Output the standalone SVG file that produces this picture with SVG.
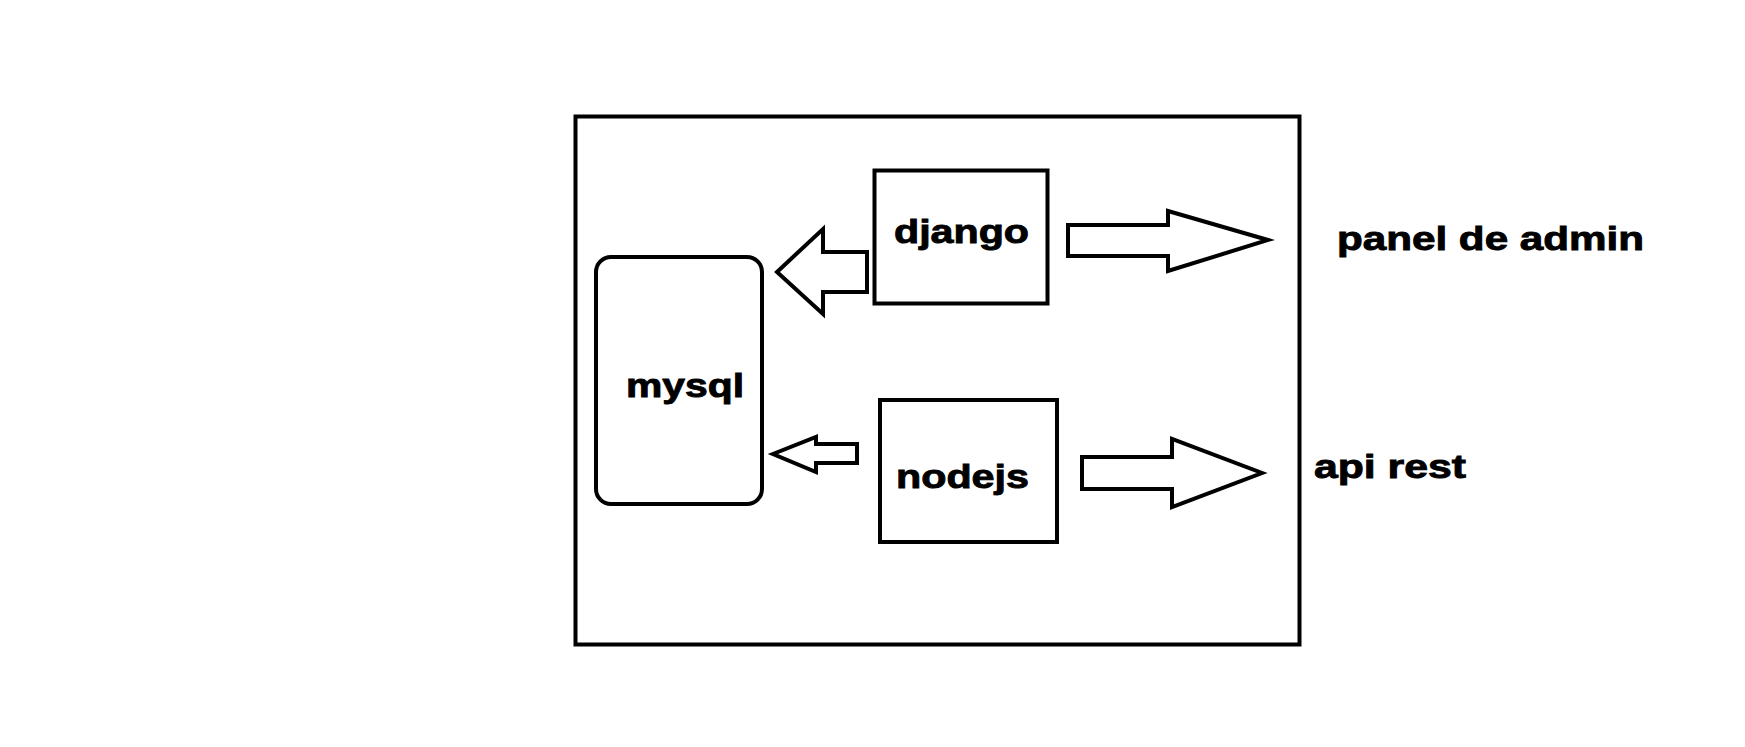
<svg xmlns="http://www.w3.org/2000/svg" width="1745" height="747" viewBox="0 0 1745 747">
<style>
.box{fill:none;stroke:#000;stroke-width:4}
.arrow{fill:#fff;stroke:#000;stroke-width:4;stroke-linejoin:miter}
.lbl{font-family:"Liberation Sans",Arial,sans-serif;font-weight:bold;font-size:34px;fill:#000;stroke:#000;stroke-width:0.9}
</style>
<rect width="1745" height="747" fill="#fff"/>
<g id="container">
<rect class="box" x="575.5" y="116.5" width="724" height="528"/>
</g>
<g id="mysql">
<rect class="box" x="596" y="257" width="166" height="247" rx="15" ry="15"/>
<text class="lbl" x="626" y="397" textLength="118" lengthAdjust="spacingAndGlyphs">mysql</text>
</g>
<g id="django">
<rect class="box" x="874.5" y="170.5" width="173" height="133"/>
<text class="lbl" x="894" y="243" textLength="135" lengthAdjust="spacingAndGlyphs">django</text>
</g>
<g id="nodejs">
<rect class="box" x="880" y="400" width="177" height="142"/>
<text class="lbl" x="896" y="488" textLength="133" lengthAdjust="spacingAndGlyphs">nodejs</text>
</g>
<g id="panel">
<text class="lbl" x="1337" y="250" textLength="307" lengthAdjust="spacingAndGlyphs">panel de admin</text>
</g>
<g id="api">
<text class="lbl" x="1314" y="478" textLength="152" lengthAdjust="spacingAndGlyphs">api rest</text>
</g>
<g id="connectors">
<polygon class="arrow" points="867,252 823,252 823,229 777,272 823,314 823,292 867,292"/>
<polygon class="arrow" points="1068,225 1168,225 1168,211 1268,240 1168,271 1168,256 1068,256"/>
<polygon class="arrow" points="857,444 816,444 816,437 773,454 816,472 816,463 857,463"/>
<polygon class="arrow" points="1082,457 1172,457 1172,439 1262,473 1172,507 1172,489 1082,489"/>
</g>
</svg>
